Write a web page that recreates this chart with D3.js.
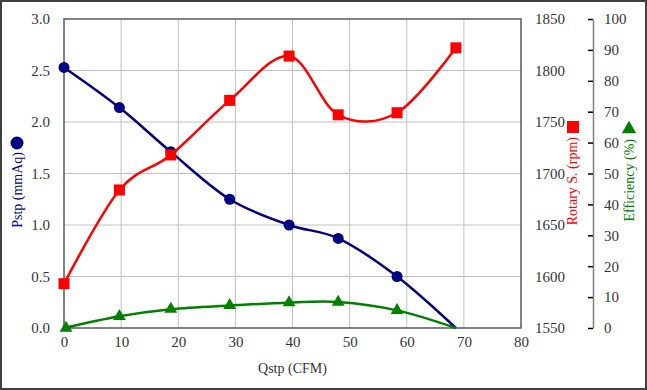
<!DOCTYPE html>
<html>
<head>
<meta charset="utf-8">
<script src="https://cdn.jsdelivr.net/npm/d3@7"></script>
<style>
  html, body { margin: 0; padding: 0; background: #fff; }
  svg { display: block; font-family: "Liberation Serif", "DejaVu Serif", serif; }
</style>
</head>
<body>
<div id="chart"></div>
<script>
// ============================================================
// DATI
// ============================================================
const qstp = [0, 9.7, 18.7, 29.0, 39.4, 48.0, 58.3, 68.6];
const pstp = [2.53, 2.14, 1.71, 1.25, 1.0, 0.87, 0.5, 0];
const rotary = [1593, 1684, 1718, 1771, 1814, 1757, 1759, 1822];
const efficiency = [0, 3.8, 6.1, 7.3, 8.2, 8.4, 5.7, 0];

const xTicks = [0, 10, 20, 30, 40, 50, 60, 70, 80];
const pTicks = [0, 0.5, 1.0, 1.5, 2.0, 2.5, 3.0];
const rTicks = [1550, 1600, 1650, 1700, 1750, 1800, 1850];
const eTicks = [0, 10, 20, 30, 40, 50, 60, 70, 80, 90, 100];

const WIDTH = 647;
const HEIGHT = 390;
const plot = { left: 64, right: 521, top: 19, bottom: 328 };

const NAVY = '#000080';
const RED = '#ff0000';
const GREEN = '#008000';
const FONT = 'Liberation Serif, DejaVu Serif, serif';

// scale
const x = d3.scaleLinear().domain([0, 80]).range([plot.left, plot.right]);
const yP = d3.scaleLinear().domain([0, 3]).range([plot.bottom, plot.top]);
const yR = d3.scaleLinear().domain([1550, 1850]).range([plot.bottom, plot.top]);
const yE = d3.scaleLinear().domain([0, 100]).range([plot.bottom, plot.top]);

const svg = d3.select('#chart')
    .append('svg')
    .attr('width', WIDTH)
    .attr('height', HEIGHT);

// bordo esterno
svg.append('rect')
    .attr('x', 1).attr('y', 1)
    .attr('width', WIDTH - 2).attr('height', HEIGHT - 2)
    .attr('fill', '#fff')
    .attr('stroke', '#404040')
    .attr('stroke-width', 2);

// griglia
svg.append('g')
    .selectAll('line')
    .data(xTicks.slice(1, -1))
    .join('line')
    .attr('x1', d => x(d)).attr('x2', d => x(d))
    .attr('y1', plot.top).attr('y2', plot.bottom)
    .attr('stroke', '#c0c0c0').attr('stroke-width', 1);

svg.append('g')
    .selectAll('line')
    .data(pTicks.slice(1, -1))
    .join('line')
    .attr('x1', plot.left).attr('x2', plot.right)
    .attr('y1', d => yP(d)).attr('y2', d => yP(d))
    .attr('stroke', '#c0c0c0').attr('stroke-width', 1);

// box del plot
svg.append('rect')
    .attr('x', plot.left).attr('y', plot.top)
    .attr('width', plot.right - plot.left)
    .attr('height', plot.bottom - plot.top)
    .attr('fill', 'none')
    .attr('stroke', '#595959')
    .attr('stroke-width', 1.5);

// assi
function fontAxis(g) {
    g.attr('font-family', FONT).attr('font-size', 15);
    g.selectAll('text').attr('font-family', FONT).attr('fill', '#333');
}
function styleAxis(g) {
    fontAxis(g);
    g.select('.domain').remove();
    g.selectAll('.tick line').remove();
}

svg.append('g')
    .attr('transform', `translate(${plot.left},0)`)
    .call(d3.axisLeft(yP).tickValues(pTicks).tickFormat(d3.format('.1f')).tickSize(0).tickPadding(14))
    .call(styleAxis);

svg.append('g')
    .attr('transform', `translate(0,${plot.bottom})`)
    .call(d3.axisBottom(x).tickValues(xTicks).tickSize(0).tickPadding(8))
    .call(styleAxis);

svg.append('g')
    .attr('transform', `translate(${plot.right},0)`)
    .call(d3.axisRight(yR).tickValues(rTicks).tickFormat(d3.format('d')).tickSize(0).tickPadding(14))
    .call(styleAxis);

const effAxis = svg.append('g')
    .attr('transform', 'translate(593,0)')
    .call(d3.axisRight(yE).tickValues(eTicks).tickSizeInner(-5).tickSizeOuter(0).tickPadding(11))
    .call(fontAxis);
effAxis.select('.domain').attr('stroke', '#808080').attr('stroke-width', 1.5);
effAxis.selectAll('.tick line').attr('stroke', '#000').attr('stroke-width', 1.5);

// linee
const curve = d3.curveCardinal.tension(0);

function drawSeries(values, yScale, color) {
    const pts = qstp.map((q, i) => [q, values[i]]);
    svg.append('path')
        .datum(pts)
        .attr('fill', 'none')
        .attr('stroke', color)
        .attr('stroke-width', 2.5)
        .attr('d', d3.line().x(d => x(d[0])).y(d => yScale(d[1])).curve(curve));
    return pts;
}

const pPts = drawSeries(pstp, yP, NAVY);
const rPts = drawSeries(rotary, yR, RED);
const ePts = drawSeries(efficiency, yE, GREEN);

// marker
svg.append('g')
    .selectAll('circle')
    .data(pPts.slice(0, -1))
    .join('circle')
    .attr('cx', d => x(d[0])).attr('cy', d => yP(d[1]))
    .attr('r', 5.5)
    .attr('fill', NAVY);

svg.append('g')
    .selectAll('rect')
    .data(rPts)
    .join('rect')
    .attr('x', d => x(d[0]) - 5.5).attr('y', d => yR(d[1]) - 5.5)
    .attr('width', 11).attr('height', 11)
    .attr('fill', RED);

const tri = d3.symbol().type(d3.symbolTriangle).size(70);
svg.append('g')
    .selectAll('path')
    .data(ePts.slice(0, -1))
    .join('path')
    .attr('transform', d => `translate(${x(d[0]) + (d[0] === 0 ? 2 : 0)},${yE(d[1])})`)
    .attr('d', tri)
    .attr('fill', GREEN);

// titoli assi
svg.append('text')
    .attr('x', (plot.left + plot.right) / 2)
    .attr('y', 373)
    .attr('text-anchor', 'middle')
    .attr('font-family', FONT)
    .attr('font-size', 14)
    .attr('fill', '#333')
    .text('Qstp (CFM)');

function sideTitle(cx, textEndY, label, color) {
    svg.append('text')
        .attr('transform', `translate(${cx + 5},${textEndY}) rotate(-90)`)
        .attr('text-anchor', 'end')
        .attr('font-family', FONT)
        .attr('font-size', 14)
        .attr('fill', color)
        .text(label);
}

sideTitle(17, 152, 'Pstp (mmAq)', NAVY);
svg.append('circle').attr('cx', 17).attr('cy', 143).attr('r', 6.5).attr('fill', NAVY);

sideTitle(572, 137, 'Rotary S. (rpm)', RED);
svg.append('rect').attr('x', 567).attr('y', 121).attr('width', 12).attr('height', 12).attr('fill', RED);

sideTitle(629, 139, 'Efficiency (%)', GREEN);
svg.append('path')
    .attr('transform', 'translate(629,129)')
    .attr('d', d3.symbol().type(d3.symbolTriangle).size(90))
    .attr('fill', GREEN);
</script>
</body>
</html>
